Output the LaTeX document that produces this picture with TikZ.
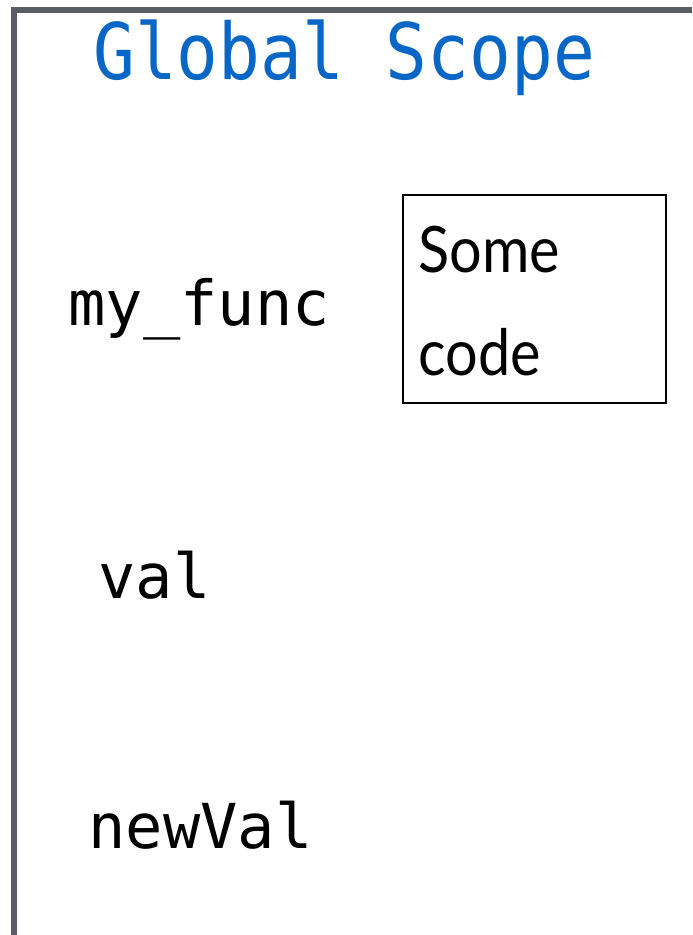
\documentclass[tikz,border=0pt]{standalone}
\usepackage{fontspec}
\usepackage{xcolor}
\usetikzlibrary{positioning}
\newfontfamily\codefont{DejaVu Sans Mono}
\newfontfamily\scopefont[FakeStretch=0.89]{DejaVu Sans Mono}
\newfontfamily\notefont[FakeStretch=0.9]{Lato}
\definecolor{scopeblue}{HTML}{0866C6}
\definecolor{framegray}{HTML}{5A5D63}

\begin{document}
\begin{tikzpicture}[x=0.5pt, y=-0.5pt,
    varname/.style={anchor=base west, inner sep=0pt, font=\codefont\fontsize{31}{31}\selectfont},
    notetext/.style={anchor=base west, inner sep=0pt, font=\notefont\fontsize{32}{32}\selectfont}]
  \useasboundingbox (0,0) rectangle (692,935);

  % frame of the scope
  \draw[line width=2.75pt, framegray] (14,935) -- (14,10) -- (692,10);
  \node[anchor=base west, inner sep=0pt, text=scopeblue,
        font=\scopefont\fontsize{39}{39}\selectfont] (scope) at (93,80) {Global Scope};

  % names in the scope
  \node[varname] (myfunc) at (68,325) {my\_func};
  \node[varname] (val) at (98,598) {val};
  \node[varname] (newval) at (88,848) {newVal};

  % the function body
  \node[draw, line width=1pt, minimum width=131.5pt, minimum height=104pt,
        inner sep=0pt] (body) at (534.5,299) {};
  \node[notetext] (some) at (418,272) {Some};
  \node[notetext] (code) at (418,375) {code};
\end{tikzpicture}
\end{document}
